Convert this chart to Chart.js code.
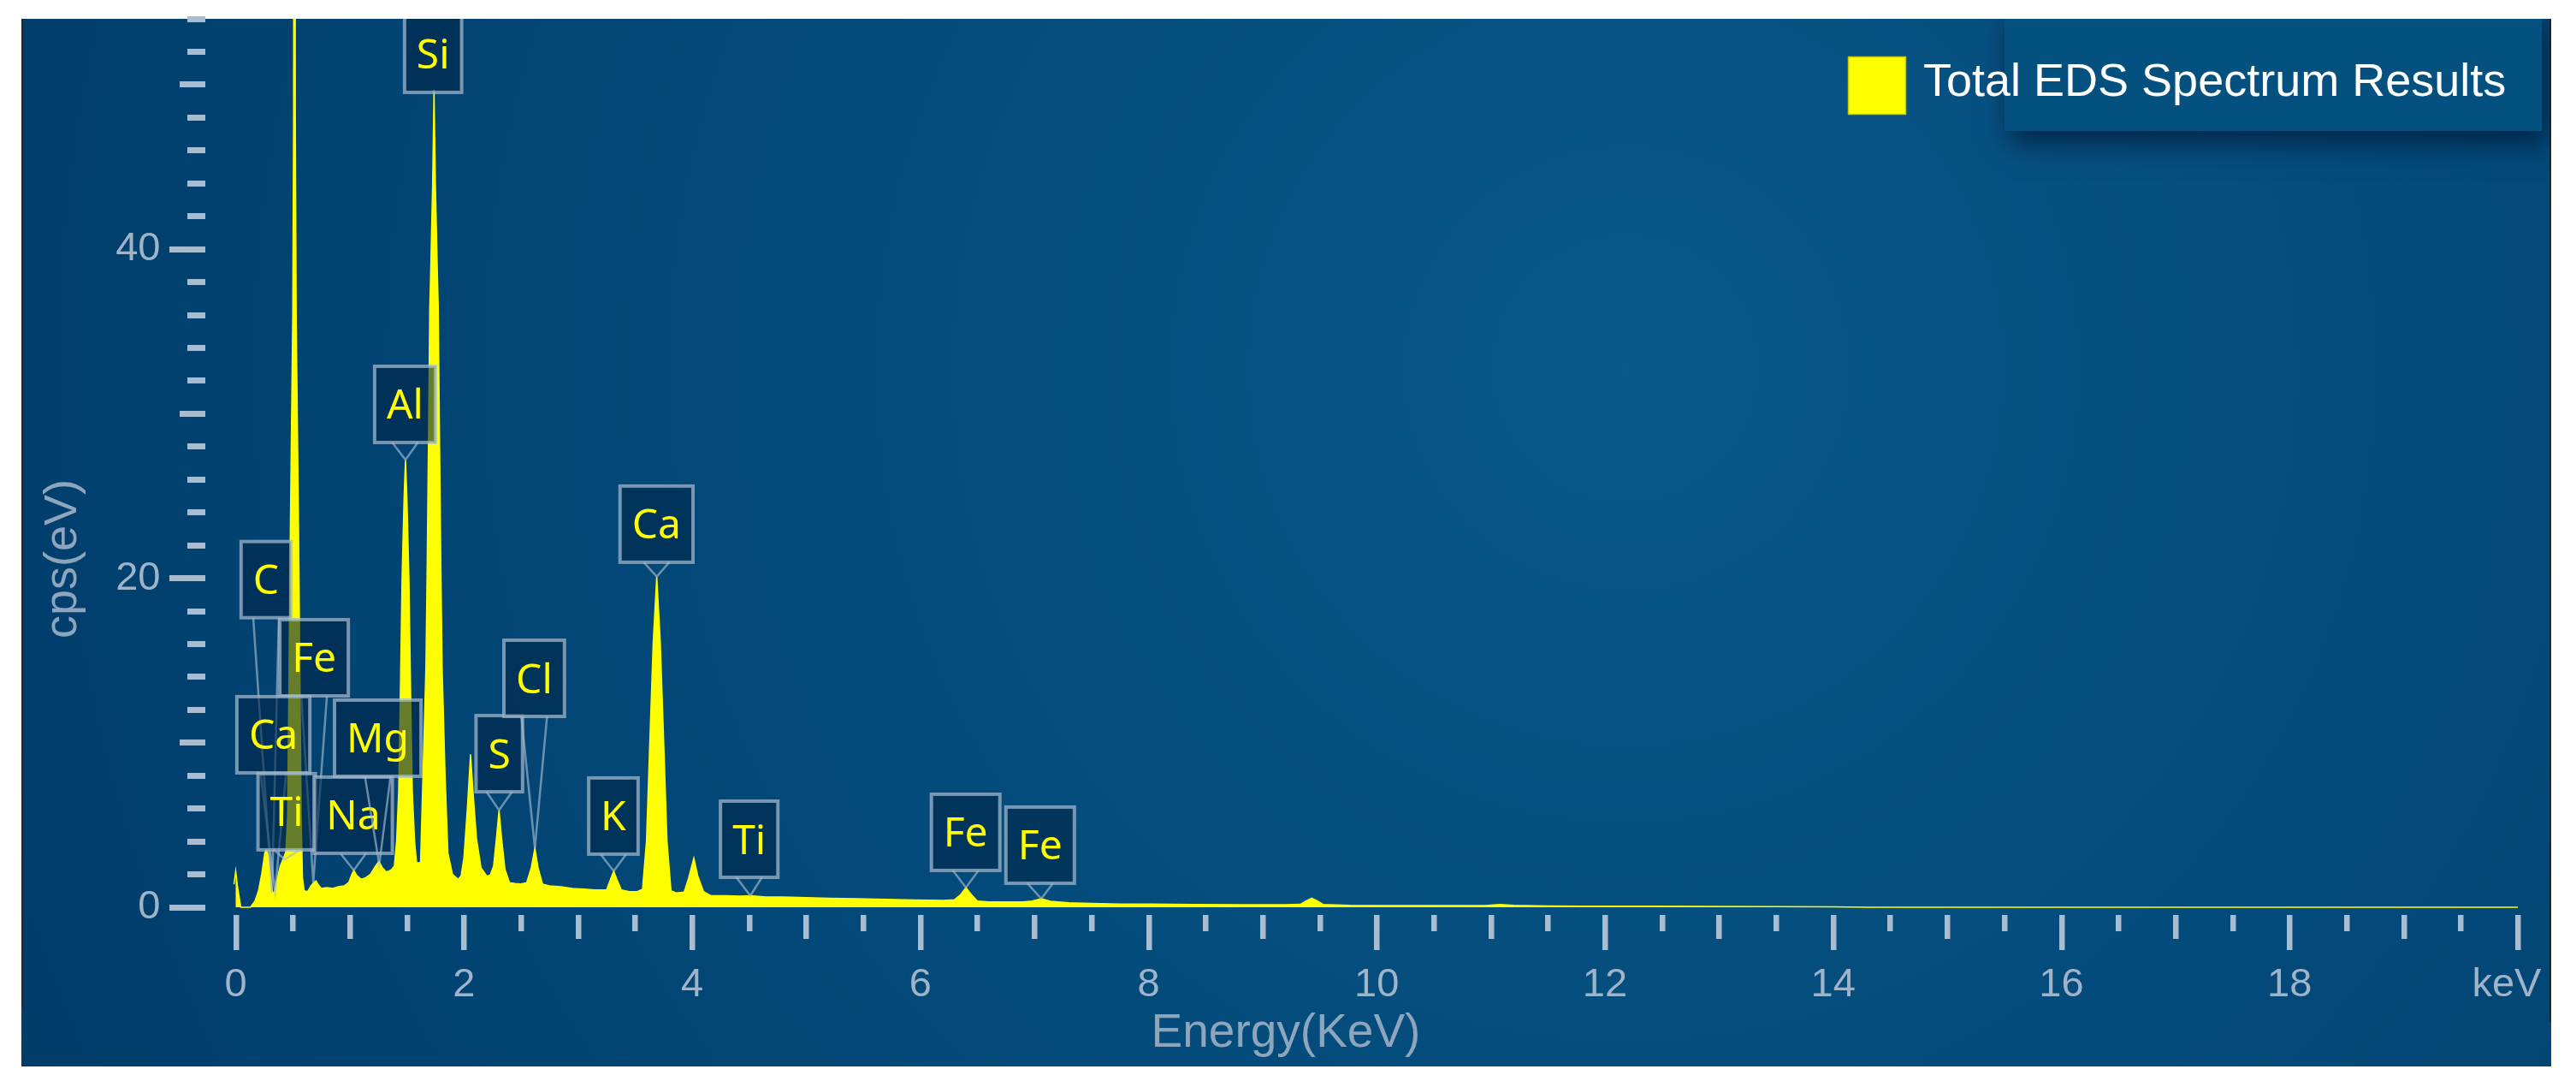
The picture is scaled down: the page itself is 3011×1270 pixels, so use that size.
<!DOCTYPE html>
<html>
<head>
<meta charset="utf-8">
<title>Total EDS Spectrum Results</title>
<script src="https://cdn.jsdelivr.net/npm/chart.js@4.4.1/dist/chart.umd.min.js"></script>
<style>
  html, body { margin: 0; padding: 0; background: #ffffff; }
  canvas { display: block; }
</style>
</head>
<body>
<canvas id="eds" width="3011" height="1270"></canvas>
<script>
// spectrum: energy (keV) and counts (cps/eV)
const energyKeV = [
    -0.04, -0.015, 0.0, 0.015, 0.045, 0.13, 0.17, 0.2, 0.23, 0.255, 0.27, 0.285, 0.3, 0.32, 0.335,
    0.36, 0.39, 0.42, 0.44, 0.455, 0.467, 0.479, 0.5, 0.5075, 0.515, 0.5225, 0.53, 0.551, 0.563, 0.574,
    0.585, 0.6, 0.63, 0.66, 0.69, 0.705, 0.72, 0.75, 0.8, 0.85, 0.9, 0.95, 0.99, 1.015, 1.035,
    1.06, 1.1, 1.14, 1.18, 1.22, 1.256, 1.285, 1.32, 1.36, 1.39, 1.41, 1.428, 1.443, 1.458, 1.476,
    1.488, 1.5, 1.518, 1.533, 1.548, 1.568, 1.585, 1.62, 1.641, 1.667, 1.678, 1.689, 1.701, 1.709, 1.726,
    1.738, 1.75, 1.767, 1.775, 1.787, 1.798, 1.809, 1.835, 1.86, 1.9, 1.95, 1.975, 2.0, 2.03, 2.058,
    2.08, 2.11, 2.15, 2.2, 2.23, 2.26, 2.285, 2.308, 2.33, 2.36, 2.4, 2.45, 2.5, 2.55, 2.59,
    2.622, 2.65, 2.69, 2.75, 2.85, 2.95, 3.05, 3.15, 3.25, 3.285, 3.313, 3.34, 3.38, 3.45, 3.52,
    3.565, 3.6, 3.625, 3.659, 3.69, 3.721, 3.755, 3.78, 3.815, 3.86, 3.93, 3.97, 4.015, 4.05, 4.1,
    4.16, 4.3, 4.42, 4.51, 4.65, 4.8, 5.0, 5.2, 5.45, 5.7, 5.95, 6.2, 6.3, 6.35, 6.4,
    6.45, 6.5, 6.6, 6.75, 6.9, 6.98, 7.06, 7.14, 7.3, 7.5, 7.75, 8.0, 8.4, 8.8, 9.2,
    9.33, 9.38, 9.43, 9.48, 9.53, 9.76, 10.2, 10.6, 10.95, 11.08, 11.2, 11.5, 11.8, 12.4, 12.9,
    13.5, 14.0, 14.3, 20.0
];
const cps = [
    0, 1.4, 2.2, 1.3, 0, 0, 0.4, 1.0, 2.1, 3.3, 3.5, 3.2, 2.3, 1.0, 0.8,
    1.6, 2.5, 3.0, 3.4, 5.6, 14, 23, 36, 48, 130, 48, 36, 23, 14, 5.6,
    1.8, 1.0, 0.95, 1.3, 1.55, 1.6, 1.4, 1.15, 1.2, 1.15, 1.25, 1.3, 1.5, 1.95, 2.25,
    1.95, 1.7, 1.8, 2.0, 2.45, 2.8, 2.4, 2.15, 2.25, 2.5, 4.0, 7, 13, 20, 25,
    27.2, 25, 20, 13, 7, 4, 2.7, 2.7, 8, 14.6, 20.8, 28, 36.5, 38.7, 44,
    49.7, 44, 38.7, 36.5, 28, 20.8, 14.6, 8, 3.3, 2.0, 1.7, 1.9, 3.0, 6.0, 9.3,
    7.0, 4.2, 2.4, 1.9, 1.95, 2.5, 4.2, 5.9, 4.2, 2.3, 1.5, 1.45, 1.42, 1.5, 2.4,
    3.6, 2.4, 1.4, 1.3, 1.25, 1.15, 1.1, 1.05, 1.05, 1.7, 2.2, 1.7, 1.05, 0.95, 0.95,
    1.1, 4.0, 9.2, 16.1, 20.1, 16.1, 9.2, 4.0, 1.0, 0.87, 0.92, 1.8, 3.0, 1.9, 0.95,
    0.72, 0.7, 0.68, 0.7, 0.63, 0.62, 0.58, 0.55, 0.52, 0.48, 0.44, 0.42, 0.46, 0.75, 1.2,
    0.75, 0.38, 0.32, 0.33, 0.33, 0.38, 0.52, 0.36, 0.27, 0.24, 0.2, 0.19, 0.17, 0.16, 0.15,
    0.18, 0.38, 0.55, 0.38, 0.17, 0.12, 0.11, 0.1, 0.11, 0.17, 0.12, 0.08, 0.07, 0.06, 0.05,
    0.04, 0.02, 0, 0
];

// peak tags: element, peak it points at, and where the tag box sits (centre keV, bottom cps)
const tagElements = ["C", "Fe", "Ca", "Ti", "Na", "Mg", "Al", "Si", "S", "Cl", "K", "Ca", "Ti", "Fe", "Fe"];
const tagPeakKeV = [0.318, 0.68, 0.345, 0.43, 1.035, 1.258, 1.488, 1.738, 2.308, 2.622, 3.313, 3.69, 4.51, 6.4, 7.06];
const tagPeakCps = [0.9, 1.5, 0.95, 2.9, 2.25, 2.6, 27.2, 49.7, 5.9, 3.6, 2.2, 20.1, 0.7, 1.2, 0.52];
const tagBoxKeV = [0.266, 0.687, 0.33, 0.447, 1.03, 1.245, 1.484, 1.73, 2.31, 2.616, 3.31, 3.688, 4.5, 6.397, 7.05];
const tagBoxCps = [17.6, 12.85, 8.17, 3.49, 3.28, 7.96, 28.25, 49.53, 7.02, 11.6, 3.23, 20.97, 1.82, 2.24, 1.46];

const seriesLabel = "Total EDS Spectrum Results";

const PANEL = { left: 25, top: 22, right: 2982, bottom: 1246 };
const tickColor = "#a9bcd0";
const labelColor = "#a0b4c9";
const titleColor = "#8ea6bd";

const clipPanel = (ctx) => {
    ctx.beginPath();
    ctx.rect(PANEL.left, PANEL.top, PANEL.right - PANEL.left, PANEL.bottom - PANEL.top);
    ctx.clip();
};

const panelPlugin = {
    id: "panel",
    beforeDraw(chart) {
        const ctx = chart.ctx;
        ctx.save();
        ctx.fillStyle = "#ffffff";
        ctx.fillRect(0, 0, chart.width, chart.height);

        const g = ctx.createRadialGradient(1900, 430, 0, 1900, 430, 2100);
        g.addColorStop(0, "#0b5888");
        g.addColorStop(0.45, "#034b7b");
        g.addColorStop(1, "#003c6a");
        ctx.fillStyle = g;
        ctx.fillRect(PANEL.left, PANEL.top, PANEL.right - PANEL.left, PANEL.bottom - PANEL.top);

        // thin dark edges
        ctx.fillStyle = "#16283a";
        ctx.fillRect(PANEL.left, PANEL.top, 2, 1155);
        ctx.fillRect(PANEL.right - 2, PANEL.top, 2, 1171);
        ctx.restore();
    },
};

const ticksPlugin = {
    id: "edsTicks",
    afterDraw(chart) {
        const { ctx, scales: { x, y }, chartArea } = chart;
        ctx.save();
        ctx.fillStyle = tickColor;

        // x: every 0.5 keV, longer every 1, longest every 2
        for (let k = 0; k <= 40; k++) {
            const px = x.getPixelForValue(k * 0.5);
            const len = k % 4 === 0 ? 41 : (k % 2 === 0 ? 28 : 19);
            ctx.fillRect(Math.round(px - 3), chartArea.bottom + 9, 6.5, len);
        }

        // y: every 2, longer every 10, longest every 20
        const yRight = chartArea.left - 35.5;
        for (let v = 0; v <= 54; v += 2) {
            const py = y.getPixelForValue(v);
            const len = v % 20 === 0 ? 42 : (v % 10 === 0 ? 30 : 21);
            ctx.fillRect(yRight - len, Math.round(py - 3.5), len, 7);
        }

        // axis titles
        ctx.fillStyle = titleColor;
        ctx.font = '55px "Liberation Sans", Arial, sans-serif';
        ctx.textAlign = "center";
        ctx.textBaseline = "alphabetic";
        ctx.fillText("Energy(KeV)", 1503, 1223);

        ctx.font = '54px "Liberation Sans", Arial, sans-serif';
        ctx.translate(89, 653);
        ctx.rotate(-Math.PI / 2);
        ctx.fillText("cps(eV)", 0, 0);
        ctx.restore();

        // legend
        ctx.save();
        clipPanel(ctx);
        ctx.shadowColor = "rgba(0, 22, 48, 0.7)";
        ctx.shadowBlur = 30;
        ctx.shadowOffsetX = 6;
        ctx.shadowOffsetY = 14;
        ctx.fillStyle = "#04507e";
        ctx.fillRect(2343, PANEL.top - 10, 2971 - 2343, 153 - PANEL.top + 10);
        ctx.restore();

        ctx.save();
        ctx.fillStyle = "#ffff00";
        ctx.fillRect(2160, 66, 68, 68);
        ctx.strokeStyle = "#c8c800";
        ctx.lineWidth = 1.5;
        ctx.strokeRect(2160.5, 66.5, 67, 67);
        ctx.fillStyle = "#ffffff";
        ctx.font = '54px "Liberation Sans", Arial, sans-serif';
        ctx.textAlign = "left";
        ctx.textBaseline = "alphabetic";
        ctx.fillText(seriesLabel, 2248, 112);
        ctx.restore();
    },
};

const tagPlugin = {
    id: "peakTags",
    afterDatasetsDraw(chart) {
        const { ctx, scales: { x, y } } = chart;
        ctx.save();
        clipPanel(ctx);
        ctx.font = '48px "Noto Sans", "Open Sans", sans-serif';
        tagElements.forEach((el, i) => {
            const cx = x.getPixelForValue(tagBoxKeV[i]);
            const bottom = y.getPixelForValue(tagBoxCps[i]);
            const tipX = x.getPixelForValue(tagPeakKeV[i]);
            const tipY = y.getPixelForValue(tagPeakCps[i]);
            const w = ctx.measureText(el).width + 28;
            const h = 89;
            const left = cx - w / 2;
            const top = bottom - h;

            ctx.fillStyle = "rgba(0, 38, 72, 0.6)";
            ctx.fillRect(left, top, w, h);
            ctx.strokeStyle = "rgba(165, 186, 206, 0.72)";
            ctx.lineWidth = 4;
            ctx.strokeRect(left, top, w, h);

            if (tipY - bottom > 4) {
                ctx.lineWidth = 2.5;
                ctx.strokeStyle = "rgba(165, 186, 206, 0.65)";
                ctx.beginPath();
                ctx.moveTo(cx - 15, bottom);
                ctx.lineTo(tipX, tipY);
                ctx.lineTo(cx + 15, bottom);
                ctx.stroke();
            }

            ctx.fillStyle = "#ffff00";
            ctx.textAlign = "center";
            ctx.textBaseline = "alphabetic";
            ctx.fillText(el, cx, top + h / 2 + 17);
        });
        ctx.restore();
    },
};

const points = energyKeV.map((e, i) => ({ x: e, y: cps[i] }));

new Chart(document.getElementById("eds").getContext("2d"), {
    type: "line",
    data: {
        datasets: [{
            label: seriesLabel,
            data: points,
            borderColor: "#ffff00",
            backgroundColor: "#ffff00",
            borderWidth: 1.5,
            fill: "origin",
            tension: 0,
            pointRadius: 0,
            clip: { left: 10, top: 0, right: 0, bottom: 2 },
        }],
    },
    options: {
        responsive: false,
        animation: false,
        devicePixelRatio: 1,
        layout: { autoPadding: false, padding: { left: 25, top: 22, right: 68, bottom: 24 } },
        plugins: {
            legend: { display: false },
            tooltip: { enabled: false },
        },
        scales: {
            x: {
                type: "linear",
                min: 0,
                max: 20,
                grid: { display: true, drawOnChartArea: false, color: "transparent", tickColor: "transparent", drawTicks: true, tickLength: 63 },
                border: { display: false },
                ticks: {
                    stepSize: 2,
                    autoSkip: false,
                    maxRotation: 0,
                    padding: 0,
                    color: labelColor,
                    font: { family: '"Liberation Sans", Arial, sans-serif', size: 47 },
                    // unit sits where "20" would be, nudged left a little
                    callback: (v) => (v === 20 ? "keV  " : v),
                },
                afterFit: (scale) => {
                    scale.height = 186;
                    scale.paddingLeft = 0;
                    scale.paddingRight = 0;
                },
            },
            y: {
                type: "linear",
                min: 0,
                max: 54,
                grid: { display: true, drawOnChartArea: false, color: "transparent", tickColor: "transparent", drawTicks: true, tickLength: 88 },
                border: { display: false },
                ticks: {
                    stepSize: 20,
                    includeBounds: false,
                    padding: 0,
                    color: labelColor,
                    font: { family: '"Liberation Sans", Arial, sans-serif', size: 47 },
                },
                afterFit: (scale) => {
                    scale.width = 250.5;
                    scale.paddingTop = 0;
                    scale.paddingBottom = 0;
                },
            },
        },
    },
    plugins: [panelPlugin, tagPlugin, ticksPlugin],
});
</script>
</body>
</html>
